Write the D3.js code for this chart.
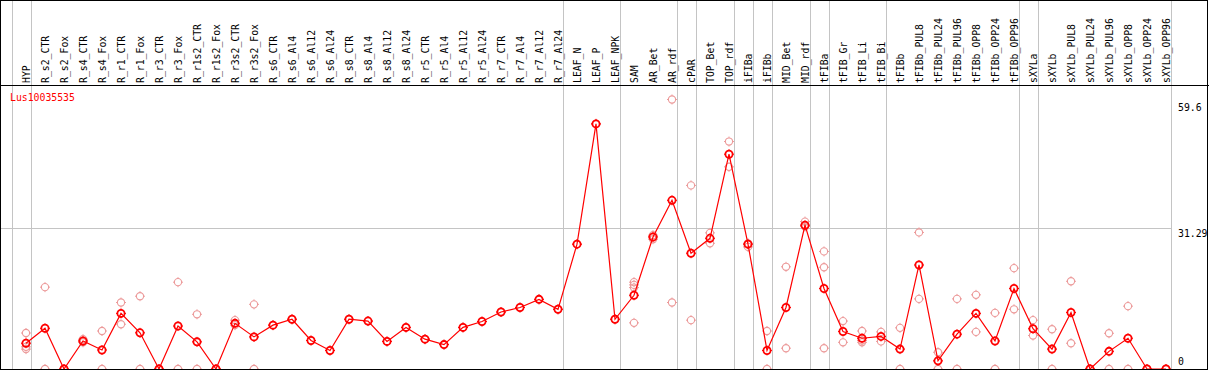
<!DOCTYPE html>
<html><head>
<meta charset="utf-8">
<script src="https://d3js.org/d3.v7.min.js"></script>
<style>
  body { margin: 0; background: #fff; }
  text { font-family: "DejaVu Sans Mono", monospace; }
  .grid line { stroke: #c4c4c4; stroke-width: 1; }
</style>
</head>
<body>
<svg id="chart" width="1209" height="370"></svg>
<script>
// --- data
const geneName = "Lus10035535";

const samples = ["HYP","R_s2_CTR","R_s2_Fox","R_s4_CTR","R_s4_Fox","R_r1_CTR","R_r1_Fox","R_r3_CTR","R_r3_Fox",
  "R_r1s2_CTR","R_r1s2_Fox","R_r3s2_CTR","R_r3s2_Fox","R_s6_CTR","R_s6_Al4","R_s6_Al12","R_s6_Al24",
  "R_s8_CTR","R_s8_Al4","R_s8_Al12","R_s8_Al24","R_r5_CTR","R_r5_Al4","R_r5_Al12","R_r5_Al24",
  "R_r7_CTR","R_r7_Al4","R_r7_Al12","R_r7_Al24","LEAF_N","LEAF_P","LEAF_NPK","SAM","AR_Bet","AR_rdf",
  "cPAR","TOP_Bet","TOP_rdf","iFIBa","iFIBb","MID_Bet","MID_rdf","tFIBa","tFIB_Gr","tFIB_Li","tFIB_Bi",
  "tFIBb","tFIBb_PUL8","tFIBb_PUL24","tFIBb_PUL96","tFIBb_OPP8","tFIBb_OPP24","tFIBb_OPP96",
  "sXYLa","sXYLb","sXYLb_PUL8","sXYLb_PUL24","sXYLb_PUL96","sXYLb_OPP8","sXYLb_OPP24","sXYLb_OPP96"];

const means = [5.7, 9.0, 0, 6.2, 4.2, 12.3, 8.0, 0, 9.5,
  6.0, 0, 10.1, 7.1, 9.7, 11.0, 6.3, 4.1,
  11.0, 10.6, 6.1, 9.2, 6.6, 5.4, 9.2, 10.5,
  12.6, 13.6, 15.4, 13.2, 27.6, 54.2, 11.0, 16.3, 29.2, 37.3,
  25.6, 28.9, 47.5, 27.6, 4.1, 13.6, 31.8, 17.8, 8.3, 6.8, 7.2,
  4.4, 23.0, 1.8, 7.7, 12.3, 6.2, 17.8,
  8.9, 4.4, 12.5, 0, 3.9, 6.8, 0, 0];

const replicates = [[7.96, 4.9, 4.4], [18.1, 0], [0, 0], [6.6, 5.9], [8.4, 0], [14.7, 9.9], [16.1, 0], [0, 0], [19.2, 0],
  [12.1, 0], [0, 0], [10.8, 9.7], [14.3, 0], [9.7], [11.0], [6.3], [4.1],
  [11.0], [10.6], [6.1], [9.2], [6.6], [5.4], [9.2], [10.5],
  [12.6], [13.6], [15.4], [13.2], [27.6], [54.2], [11.0], [19.2, 18.6, 18.0, 10.2], [29.6, 28.7], [59.6, 14.7],
  [40.6, 10.8], [30.1, 27.8], [50.3, 44.7], [27.8, 27.0], [8.4, 0], [22.6, 4.6], [32.6, 31.5], [26.0, 22.5, 4.6], [10.6, 5.9], [8.4, 6.3, 5.9], [8.2, 6.1],
  [9.1, 0], [30.2, 15.5], [3.7, 0], [15.5, 0], [16.4, 8.2], [12.4, 0], [22.3, 13.2],
  [10.8, 7.4], [8.8, 0], [19.4, 5.7], [0, 0], [7.9, 0], [13.9, 0], [0, 0], [0, 0]];

// gridline drawn after each of these samples (plus one before the first)
const groupEnds = ["HYP","R_r7_Al24","LEAF_NPK","AR_rdf","cPAR","TOP_rdf","iFIBa","iFIBb","MID_rdf",
  "tFIBa","tFIB_Bi","tFIBb_OPP96","sXYLa","sXYLb_OPP96"];

const maxValue = 59.6;
const axisTop = 62.58; // max * 1.05
const yTicks = [maxValue, 31.29, 0];

// --- setup
const svg = d3.select("svg#chart");
const width = +svg.attr("width");
const height = +svg.attr("height");
const headerH = 85;
const plotBottom = 369;

const x = d3.scaleBand().domain(samples).range([16.5, 16.5 + 19 * samples.length]);
const cx = d => x(d) + x.bandwidth() / 2;
const y = d3.scaleLinear().domain([0, axisTop]).range([plotBottom, headerH + 1]);

// gridlines
const grid = svg.append("g").attr("class", "grid");
const gx = [cx(samples[0]) - 19 + 4.5].concat(groupEnds.map(s => cx(s) + 4.5));
grid.selectAll("line.v").data(gx).join("line")
  .attr("class", "v")
  .attr("x1", d => Math.round(d) + 0.5).attr("x2", d => Math.round(d) + 0.5)
  .attr("y1", 0).attr("y2", plotBottom);
grid.append("line")
  .attr("x1", 1).attr("x2", Math.round(gx[gx.length - 1]) + 0.5)
  .attr("y1", Math.round(y(31.29)) + 0.5).attr("y2", Math.round(y(31.29)) + 0.5);

// circle with little ticks, like the original pixel circles
function marker(g, px, py, color, sw) {
  g.append("circle").attr("cx", px).attr("cy", py).attr("r", 3.6)
    .attr("fill", "none").attr("stroke", color).attr("stroke-width", sw);
  [[0, -1], [0, 1], [-1, 0], [1, 0]].forEach(([dx, dy]) => {
    g.append("line")
      .attr("x1", px + dx * 3.6).attr("y1", py + dy * 3.6)
      .attr("x2", px + dx * 5).attr("y2", py + dy * 5)
      .attr("stroke", color).attr("stroke-width", 1);
  });
}

// replicates
const repG = svg.append("g");
samples.forEach((s, i) => {
  replicates[i].forEach(v => marker(repG, cx(s), y(v), "#ec9a9a", 1.1));
});

// mean line
const line = d3.line().x((d, i) => cx(samples[i])).y(d => y(d));
svg.append("path").datum(means)
  .attr("d", line).attr("fill", "none").attr("stroke", "#ff0000").attr("stroke-width", 1.2);

const meanG = svg.append("g");
means.forEach((v, i) => marker(meanG, cx(samples[i]), y(v), "#ff0000", 1.8));

// header labels
svg.append("g").selectAll("text").data(samples).join("text")
  .attr("transform", d => `translate(${cx(d) + 4},83) rotate(-90)`)
  .attr("font-size", "9.8px")
  .attr("fill", "#000")
  .text(d => d);

// frame
svg.append("line").attr("x1", 0).attr("x2", width).attr("y1", headerH + 0.5).attr("y2", headerH + 0.5)
  .attr("stroke", "#000").attr("stroke-width", 1);
svg.append("rect").attr("x", 0.5).attr("y", 0.5).attr("width", width - 2).attr("height", plotBottom)
  .attr("fill", "none").attr("stroke", "#000").attr("stroke-width", 1);

// gene name
svg.append("text").attr("x", 10).attr("y", 101)
  .attr("font-size", "9.8px").attr("fill", "#ff0000").text(geneName);

// y labels
svg.append("g").selectAll("text").data(yTicks).join("text")
  .attr("x", 1178)
  .attr("y", d => d === 0 ? 365 : (d === maxValue ? 111 : y(d) + 9))
  .attr("font-size", "9.8px").attr("fill", "#000")
  .text(d => d);
</script>
</body>
</html>
